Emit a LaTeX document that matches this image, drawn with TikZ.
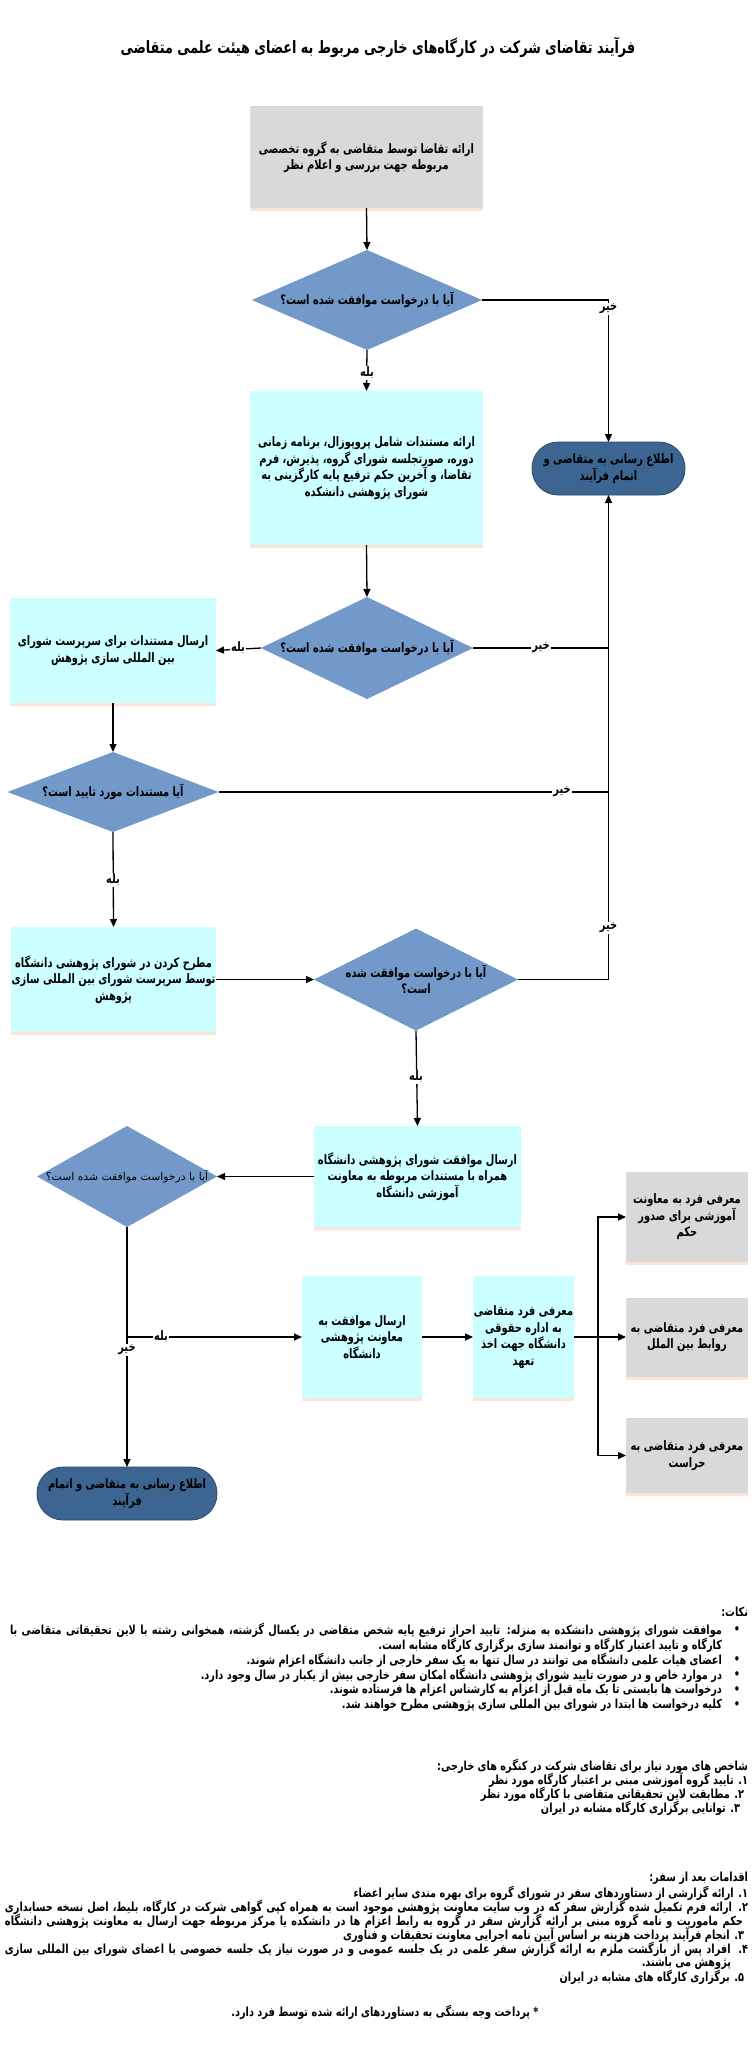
\documentclass[tikz,border=0pt]{standalone}
\usepackage{fontspec}
\usetikzlibrary{shapes.geometric,arrows.meta}
\TeXXeTstate=1
\newfontfamily\fa[Script=Arabic,FakeStretch=0.76]{DejaVu Sans}
\newfontfamily\fatitle[Script=Arabic,FakeStretch=0.75]{DejaVu Sans}
\newfontfamily\fanote[Script=Arabic,FakeStretch=0.78]{DejaVu Sans}
\newfontfamily\fawide[Script=Arabic]{DejaVu Sans}
\newcommand\pl[1]{\beginR #1\endR}
\definecolor{cyanbox}{HTML}{CCFFFF}
\definecolor{graybox}{HTML}{D9D9D9}
\definecolor{diablue}{HTML}{7299C9}
\definecolor{termblue}{HTML}{3C6592}
\definecolor{termedge}{HTML}{2A4A70}
\definecolor{peach}{HTML}{FCE4D6}
\tikzset{
 every node/.style={inner sep=0pt, outer sep=0pt},
 nodetxt/.style={font=\fa\bfseries\fontsize{13}{16.5}\selectfont, align=center},
 cbox/.style={rectangle, fill=cyanbox, nodetxt},
 gbox/.style={rectangle, fill=graybox, nodetxt},
 dia/.style={diamond, fill=diablue},
 term/.style={rectangle, rounded corners=26pt, fill=termblue, draw=termedge, line width=0.8pt, nodetxt},
 conn/.style={line width=1.3pt, black},
 arr/.style={conn, -{Triangle[length=8pt,width=7pt]}},
 lbl/.style={font=\fa\bfseries\fontsize{13}{13}\selectfont, fill=white, inner sep=1pt},
 note/.style={font=\fanote\bfseries\fontsize{12.5}{13}\selectfont, anchor=east},
 shad/.style={fill=peach},
}
\begin{document}
\begin{tikzpicture}[x=1pt,y=-1pt]
\useasboundingbox (0,0) rectangle (753,2047);
\fill[white] (0,0) rectangle (753,2047);

\node[font=\fatitle\bfseries\fontsize{17}{19}\selectfont] (title) at (378,47) {\pl{فرآیند تقاضای شرکت در کارگاه‌های خارجی مربوط به اعضای هیئت علمی متقاضی}};

% boxes
\node[gbox, minimum width=233pt, minimum height=102pt] (b1) at (366.5,157) {\pl{ارائه تقاضا توسط متقاضی به گروه تخصصی}\\\pl{مربوطه جهت بررسی و اعلام نظر}};
\node[dia, minimum width=230pt, minimum height=100pt] (d1) at (367,300) {};
\node[nodetxt] (d1t) at (d1) {\pl{آیا با درخواست موافقت شده است؟}};
\node[cbox, minimum width=233pt, minimum height=154pt] (b2) at (366.5,468) {\pl{ارائه مستندات شامل پروپوزال، برنامه زمانی}\\\pl{دوره، صورتجلسه شورای گروه، پذیرش، فرم}\\\pl{تقاضا، و آخرین حکم ترفیع پایه کارگزینی به}\\\pl{شورای پژوهشی دانشکده}};
\node[term, minimum width=153pt, minimum height=53pt] (t1) at (608.5,468.5) {\pl{اطلاع رسانی به متقاضی و}\\\pl{اتمام فرآیند}};
\node[dia, minimum width=212pt, minimum height=102pt] (d2) at (367,648) {};
\node[nodetxt] (d2t) at (d2) {\pl{آیا با درخواست موافقت شده است؟}};
\node[cbox, minimum width=206pt, minimum height=105pt] (b3) at (113,650.5) {\pl{ارسال مستندات برای سرپرست شورای}\\\pl{بین المللی سازی پژوهش}};
\node[dia, minimum width=211pt, minimum height=80pt] (d3) at (113,792) {};
\node[nodetxt] (d3t) at (d3) {\pl{آیا مستندات مورد تایید است؟}};
\node[cbox, minimum width=205pt, minimum height=105pt] (b4) at (113.5,979.5) {\pl{مطرح کردن در شورای پژوهشی دانشگاه}\\\pl{توسط سرپرست شورای بین المللی سازی}\\\pl{پژوهش}};
\node[dia, minimum width=204pt, minimum height=102pt] (d4) at (416,979.5) {};
\node[nodetxt] (d4t) at (d4) {\pl{آیا با درخواست موافقت شده}\\\pl{است؟}};
\node[cbox, minimum width=207pt, minimum height=101pt] (b5) at (417.5,1176.5) {\pl{ارسال موافقت شورای پژوهشی دانشگاه}\\\pl{همراه با مستندات مربوطه به معاونت}\\\pl{آموزشی دانشگاه}};
\node[dia, minimum width=180pt, minimum height=101pt] (d5) at (127,1176.5) {};
\node[font=\fawide\fontsize{10.8}{12}\selectfont] (d5t) at (d5) {\pl{آیا با درخواست موافقت شده است؟}};
\node[cbox, minimum width=120pt, minimum height=122pt] (b6) at (362,1337) {\pl{ارسال موافقت به}\\\pl{معاونت پژوهشی}\\\pl{دانشگاه}};
\node[cbox, minimum width=101pt, minimum height=122pt] (b7) at (523.5,1337) {\pl{معرفی فرد متقاضی}\\\pl{به اداره حقوقی}\\\pl{دانشگاه جهت اخذ}\\\pl{تعهد}};
\node[gbox, minimum width=122pt, minimum height=90pt] (gA) at (687,1217) {\pl{معرفی فرد به معاونت}\\\pl{آموزشی برای صدور}\\\pl{حکم}};
\node[gbox, minimum width=122pt, minimum height=79pt] (gB) at (687,1337) {\pl{معرفی فرد متقاضی به}\\\pl{روابط بین الملل}};
\node[gbox, minimum width=122pt, minimum height=75pt] (gC) at (687,1455.5) {\pl{معرفی فرد متقاضی به}\\\pl{حراست}};
\node[term, minimum width=180pt, minimum height=53pt] (t2) at (127,1493.5) {\pl{اطلاع رسانی به متقاضی و اتمام}\\\pl{فرآیند}};

% shadows
\foreach \b in {b1,b2,b3,b4,b5,b6,b7,gA,gB,gC}{
  \fill[shad] (\b.south west) rectangle ([yshift=-3pt]\b.south east);
}

% connectors
\draw[arr] (b1.south) -- (d1.north);
\coordinate (c1) at (t1.north |- d1.east);
\draw[arr] (d1.east) -- (c1) -- (t1.north);
\draw[arr] (d1.south) -- (b2.north);
\draw[arr] (b2.south) -- (d2.north);
\draw[arr] (d2.west) -- (b3.east);
\coordinate (c2) at (t1.south |- d2.east);
\coordinate (c3) at (t1.south |- d3.east);
\coordinate (c4) at (t1.south |- d4.east);
\draw[conn] (d2.east) -- (c2);
\draw[conn] (d3.east) -- (c3);
\draw[arr] (d4.east) -- (c4) -- (t1.south);
\draw[arr] (b3.south) -- (d3.north);
\draw[arr] (d3.south) -- (b4.north);
\draw[arr] (b4.east) -- (d4.west);
\draw[arr] (d4.south) -- (b5.north);
\draw[arr] (b5.west) -- (d5.east);
\draw[arr] (d5.south) -- (t2.north);
\coordinate (c5) at (d5.south |- b6.west);
\draw[arr] (c5) -- (b6.west);
\draw[arr] (b6.east) -- (b7.west);
\coordinate (j) at (598,1337);
\draw[conn] (b7.east) -- (j);
\draw[arr] (j) -- (gB.west);
\draw[arr] (j) |- (gA.west);
\draw[arr] (j) |- (gC.west);

% labels
\node[lbl] (l1) at (608.5,309) {\pl{خیر}};
\node[lbl] (l2) at (367,373) {\pl{بله}};
\node[lbl] (l3) at (238,648) {\pl{بله}};
\node[lbl] (l4) at (541,648) {\pl{خیر}};
\node[lbl] (l5) at (562,792) {\pl{خیر}};
\node[lbl] (l6) at (113,880) {\pl{بله}};
\node[lbl] (l7) at (608.5,928) {\pl{خیر}};
\node[lbl] (l8) at (416,1077) {\pl{بله}};
\node[lbl] (l9) at (161,1337) {\pl{بله}};
\node[lbl] (l10) at (127,1350) {\pl{خیر}};

% notes
\node[note] (n0) at (748,1612) {\pl{نکات:}};
\foreach \yy/\nm in {1630/p1,1660/p2,1675/p3,1690/p4,1705/p5}{
  \node[note, anchor=center] (\nm) at (737,\yy) {•};
}
\node[note] (n1) at (722,1630) {\makebox[712pt][s]{\pl{موافقت شورای پژوهشی دانشکده به منزله: تایید احراز ترفیع پایه شخص متقاضی در یکسال گزشته، همخوانی رشته با لاین تحقیقاتی متقاضی با}}};
\node[note] (n2) at (722,1645) {\pl{کارگاه و تایید اعتبار کارگاه و توانمند سازی برگزاری کارگاه مشابه است.}};
\node[note] (n3) at (722,1660) {\pl{اعضای هیات علمی دانشگاه می توانند در سال تنها به یک سفر خارجی از جانب دانشگاه اعزام شوند.}};
\node[note] (n4) at (722,1675) {\pl{در موارد خاص و در صورت تایید شورای پژوهشی دانشگاه امکان سفر خارجی بیش از یکبار در سال وجود دارد.}};
\node[note] (n5) at (722,1690) {\pl{درخواست ها بایستی تا یک ماه قبل از اعزام به کارشناس اعزام ها فرستاده شوند.}};
\node[note] (n6) at (722,1705) {\pl{کلیه درخواست ها ابتدا در شورای بین المللی سازی پژوهشی مطرح خواهند شد.}};

\node[note] (s0) at (748,1766) {\pl{شاخص های مورد نیاز برای تقاضای شرکت در کنگره های خارجی:}};
\node[note] (s1) at (748,1780) {\pl{۱. تایید گروه آموزشی مبنی بر اعتبار کارگاه مورد نظر}};
\node[note] (s2) at (744,1794) {\pl{۲. مطابقت لاین تحقیقاتی متقاضی با کارگاه مورد نظر}};
\node[note] (s3) at (740,1808) {\pl{۳. توانایی برگزاری کارگاه مشابه در ایران}};

\node[note] (a0) at (748,1878) {\pl{اقدامات بعد از سفر:}};
\node[note] (a1) at (748,1893) {\pl{۱. ارائه گزارشی از دستاوردهای سفر در شورای گروه برای بهره مندی سایر اعضاء}};
\node[note] (a2) at (748,1907) {\makebox[743pt][s]{\pl{۲. ارائه فرم تکمیل شده گزارش سفر که در وب سایت معاونت پژوهشی موجود است به همراه کپی گواهی شرکت در کارگاه، بلیط، اصل نسخه حسابداری}}};
\node[note] (a3) at (743,1921) {\makebox[738pt][s]{\pl{حکم ماموریت و نامه گروه مبنی بر ارائه گزارش سفر در گروه به رابط اعزام ها در دانشکده یا مرکز مربوطه جهت ارسال به معاونت پژوهشی دانشگاه}}};
\node[note] (a4) at (744,1935) {\pl{۳. انجام فرآیند پرداخت هزینه بر اساس آیین نامه اجرایی معاونت تحقیقات و فناوری}};
\node[note] (a5) at (748,1949) {\makebox[743pt][s]{\pl{۴. افراد پس از بازگشت ملزم به ارائه گزارش سفر علمی در یک جلسه عمومی و در صورت نیاز یک جلسه خصوصی با اعضای شورای بین المللی سازی}}};
\node[note] (a6) at (731,1963) {\pl{پژوهش می باشند.}};
\node[note] (a7) at (744,1977) {\pl{۵. برگزاری کارگاه های مشابه در ایران}};
\node[note, anchor=center] (a8) at (385,2012) {\pl{* پرداخت وجه بستگی به دستاوردهای ارائه شده توسط فرد دارد.}};
\end{tikzpicture}
\end{document}
